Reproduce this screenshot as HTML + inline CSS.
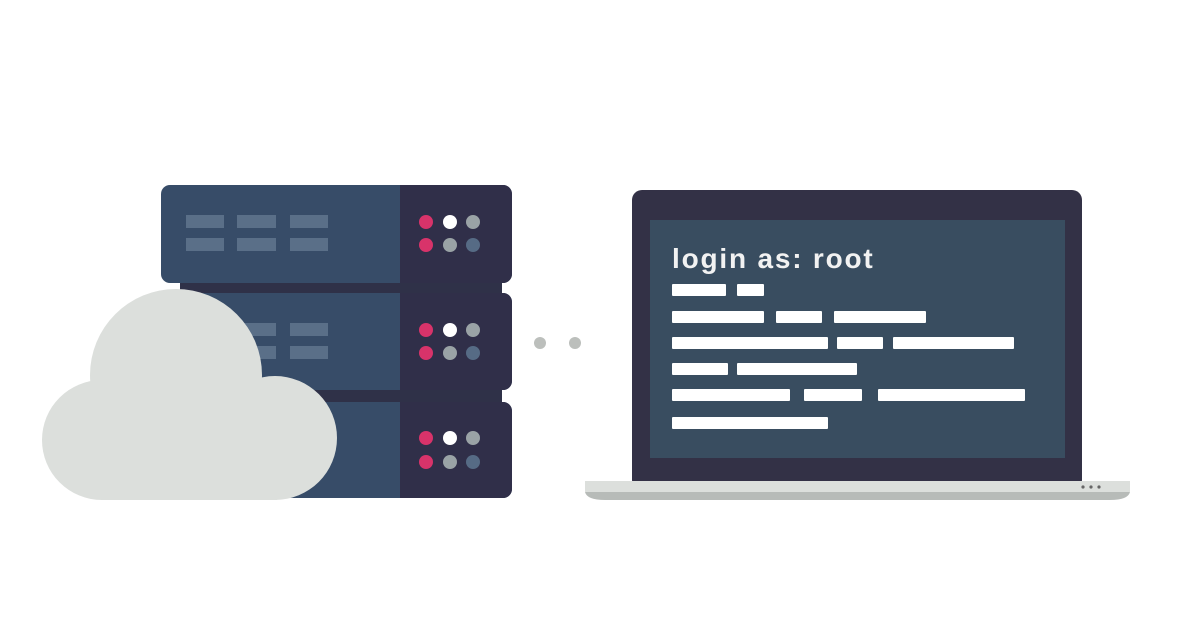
<!DOCTYPE html>
<html><head><meta charset="utf-8"><style>
html,body{margin:0;padding:0;background:#fff;}
body{width:1200px;height:627px;overflow:hidden;}
</style></head><body>
<svg width="1200" height="627" viewBox="0 0 1200 627" xmlns="http://www.w3.org/2000/svg">
<rect width="1200" height="627" fill="#fff"/>
<rect x="180" y="270" width="322" height="140" fill="#2f3148"/>
<g>
<rect x="161" y="185" width="351" height="98" rx="9" fill="#374c68"/>
<path d="M400 185 H503 a9 9 0 0 1 9 9 V274 a9 9 0 0 1 -9 9 H400 Z" fill="#302f49"/>
<rect x="161" y="293" width="351" height="97" rx="9" fill="#374c68"/>
<path d="M400 293 H503 a9 9 0 0 1 9 9 V381 a9 9 0 0 1 -9 9 H400 Z" fill="#302f49"/>
<rect x="161" y="402" width="351" height="96" rx="9" fill="#374c68"/>
<path d="M400 402 H503 a9 9 0 0 1 9 9 V489 a9 9 0 0 1 -9 9 H400 Z" fill="#302f49"/>
</g>
<g fill="#5a6f88">
<rect x="186" y="215" width="38" height="13"/><rect x="237" y="215" width="39" height="13"/><rect x="290" y="215" width="38" height="13"/>
<rect x="186" y="238" width="38" height="13"/><rect x="237" y="238" width="39" height="13"/><rect x="290" y="238" width="38" height="13"/>
<rect x="186" y="323" width="38" height="13"/><rect x="237" y="323" width="39" height="13"/><rect x="290" y="323" width="38" height="13"/>
<rect x="186" y="346" width="38" height="13"/><rect x="237" y="346" width="39" height="13"/><rect x="290" y="346" width="38" height="13"/>
</g>
<g>
<circle cx="426" cy="222" r="7" fill="#d8336a"/><circle cx="450" cy="222" r="7" fill="#fff"/><circle cx="473" cy="222" r="7" fill="#9aa3a6"/>
<circle cx="426" cy="245" r="7" fill="#d8336a"/><circle cx="450" cy="245" r="7" fill="#9aa3a6"/><circle cx="473" cy="245" r="7" fill="#566b85"/>
<circle cx="426" cy="330" r="7" fill="#d8336a"/><circle cx="450" cy="330" r="7" fill="#fff"/><circle cx="473" cy="330" r="7" fill="#9aa3a6"/>
<circle cx="426" cy="353" r="7" fill="#d8336a"/><circle cx="450" cy="353" r="7" fill="#9aa3a6"/><circle cx="473" cy="353" r="7" fill="#566b85"/>
<circle cx="426" cy="438" r="7" fill="#d8336a"/><circle cx="450" cy="438" r="7" fill="#fff"/><circle cx="473" cy="438" r="7" fill="#9aa3a6"/>
<circle cx="426" cy="462" r="7" fill="#d8336a"/><circle cx="450" cy="462" r="7" fill="#9aa3a6"/><circle cx="473" cy="462" r="7" fill="#566b85"/>
</g>
<g fill="#dcdfdc">
<circle cx="176" cy="375" r="86"/>
<circle cx="275" cy="438" r="62"/>
<circle cx="102" cy="440" r="60"/>
<rect x="102" y="400" width="175" height="100"/>
</g>
<circle cx="540" cy="343" r="6" fill="#bcbfbc"/>
<circle cx="575" cy="343" r="6" fill="#bcbfbc"/>
<rect x="632" y="190" width="450" height="300" rx="10" fill="#333146"/>
<rect x="650" y="220" width="415" height="238" fill="#394d60"/>
<path d="M585 482 H1130 V492 Q1128 500 1110 500 H605 Q587 500 585 492 Z" fill="#b7bbb8"/>
<rect x="585" y="481" width="545" height="11" fill="#dcdfdc"/>
<circle cx="1083" cy="487" r="1.6" fill="#666"/><circle cx="1091" cy="487" r="1.6" fill="#666"/><circle cx="1099" cy="487" r="1.6" fill="#666"/>
<text x="672" y="268" font-family="Liberation Sans, sans-serif" font-weight="bold" font-size="28" fill="#f2f2f2" letter-spacing="1.8">login as: root</text>
<g fill="#fff">
<rect x="672" y="284" width="54" height="12" rx="1"/><rect x="737" y="284" width="27" height="12" rx="1"/>
<rect x="672" y="311" width="92" height="12" rx="1"/><rect x="776" y="311" width="46" height="12" rx="1"/><rect x="834" y="311" width="92" height="12" rx="1"/>
<rect x="672" y="337" width="156" height="12" rx="1"/><rect x="837" y="337" width="46" height="12" rx="1"/><rect x="893" y="337" width="121" height="12" rx="1"/>
<rect x="672" y="363" width="56" height="12" rx="1"/><rect x="737" y="363" width="120" height="12" rx="1"/>
<rect x="672" y="389" width="118" height="12" rx="1"/><rect x="804" y="389" width="58" height="12" rx="1"/><rect x="878" y="389" width="147" height="12" rx="1"/>
<rect x="672" y="417" width="156" height="12" rx="1"/>
</g>
</svg>
</body></html>
